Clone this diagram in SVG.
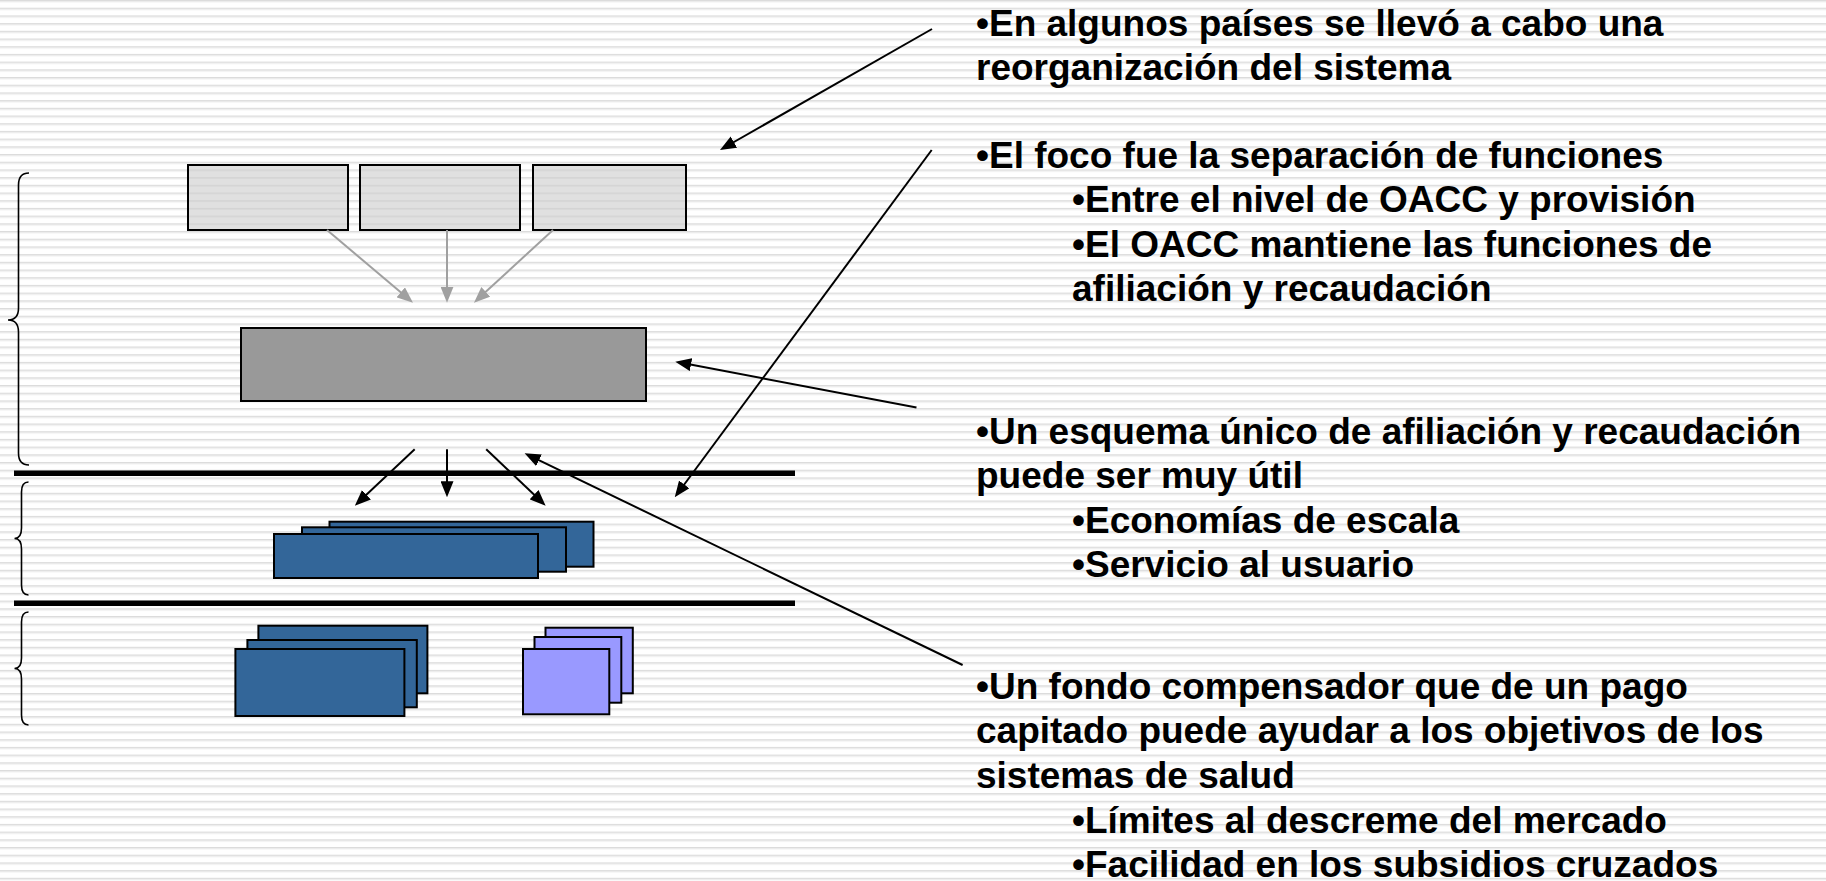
<svg xmlns="http://www.w3.org/2000/svg" width="1826" height="881" viewBox="0 0 1826 881">
<style>
.t{font-family:"Liberation Sans",Arial,sans-serif;font-weight:bold;font-size:37px;fill:#000}
.lt{fill:url(#boxpat);stroke:#000;stroke-width:2}
.dk{fill:#999999;stroke:#000;stroke-width:2}
.bl{fill:#336699;stroke:#000;stroke-width:2}
.pu{fill:#9999FF;stroke:#000;stroke-width:2}
.brace{fill:none;stroke:#000;stroke-width:1.6}
.rule{stroke:#000;stroke-width:5.5}
.ca{fill:none;stroke:#000;stroke-width:2;marker-end:url(#ah)}
.cg{fill:none;stroke:#a0a0a0;stroke-width:2;marker-end:url(#ahg)}
</style>
<defs>
<pattern id="bg" width="20" height="7.7" patternUnits="userSpaceOnUse">
<rect width="20" height="7.7" fill="#fff"/>
<rect y="0" width="20" height="1" fill="#dcdcdc"/>
<rect y="1" width="20" height="1.3" fill="#ebebeb"/>
</pattern>
<pattern id="boxpat" width="20" height="7.7" patternUnits="userSpaceOnUse">
<rect width="20" height="7.7" fill="#e0e0e0"/>
<rect y="0" width="20" height="1.6" fill="#d4d4d4"/>
</pattern>
<marker id="ah" markerUnits="userSpaceOnUse" markerWidth="16" markerHeight="13" refX="10" refY="6.5" orient="auto" viewBox="0 0 16 13">
<path d="M0,0 L16,6.5 L0,13 z" fill="#000"/>
</marker>
<marker id="ahg" markerUnits="userSpaceOnUse" markerWidth="16" markerHeight="13" refX="10" refY="6.5" orient="auto" viewBox="0 0 16 13">
<path d="M0,0 L16,6.5 L0,13 z" fill="#a0a0a0"/>
</marker>
</defs>
<rect width="1826" height="881" fill="url(#bg)"/>

<g id="braces">
<path class="brace" d="M29,173 Q18.5,173 18.5,185 L18.5,308 Q18.5,320 8,320 Q18.5,320 18.5,332 L18.5,453 Q18.5,465 29,465"/>
<path class="brace" d="M28.5,482 Q21.5,482 21.5,492 L21.5,528 Q21.5,538.5 14.5,538.5 Q21.5,538.5 21.5,549 L21.5,585 Q21.5,595 28.5,595"/>
<path class="brace" d="M28.5,612 Q21.5,612 21.5,622 L21.5,658 Q21.5,668.5 14.5,668.5 Q21.5,668.5 21.5,679 L21.5,715 Q21.5,725 28.5,725"/>
</g>
<g id="rules">
<line class="rule" x1="14" y1="473.3" x2="795" y2="473.3"/>
<line class="rule" x1="14" y1="603.3" x2="795" y2="603.3"/>
</g>

<g id="top-boxes">
<rect id="n-top1" class="lt" x="188" y="165" width="160" height="65"/>
<rect id="n-top2" class="lt" x="360" y="165" width="160" height="65"/>
<rect id="n-top3" class="lt" x="533" y="165" width="153" height="65"/>
</g>
<g id="n-mid">
<rect class="dk" x="241" y="328" width="405" height="73"/>
</g>
<g id="n-stack1">
<rect class="bl" x="329.5" y="521.7" width="264" height="45"/>
<rect class="bl" x="302" y="527.3" width="264" height="44.4"/>
<rect class="bl" x="274" y="534" width="264" height="44"/>
</g>
<g id="n-stack2">
<rect class="bl" x="258.4" y="625.7" width="169" height="67.6"/>
<rect class="bl" x="247.4" y="640" width="169.4" height="67.3"/>
<rect class="bl" x="235.4" y="649" width="169" height="67"/>
</g>
<g id="n-stack3">
<rect class="pu" x="545.5" y="627.7" width="87.3" height="65.6"/>
<rect class="pu" x="534.5" y="637" width="86.8" height="65.7"/>
<rect class="pu" x="523" y="649" width="86.3" height="65.3"/>
</g>

<g id="connectors">
<line class="cg" x1="327" y1="230" x2="408.4" y2="298.8"/>
<line class="cg" x1="447" y1="230" x2="447" y2="296.7"/>
<line class="cg" x1="553" y1="230" x2="478.4" y2="298.6"/>
<line class="ca" x1="414.7" y1="449.3" x2="359.2" y2="501.6"/>
<line class="ca" x1="447" y1="449.3" x2="447" y2="491.3"/>
<line class="ca" x1="486.2" y1="449.3" x2="541.3" y2="501.6"/>
<line class="ca" x1="932" y1="29" x2="725.2" y2="147"/>
<line class="ca" x1="931.7" y1="150" x2="678.3" y2="492.5"/>
<line class="ca" x1="916.5" y1="407.6" x2="681.2" y2="362.8"/>
<line class="ca" x1="962.6" y1="665" x2="530" y2="455.9"/>
</g>

<g id="text1">
<text class="t" x="976" y="36">•En algunos países se llevó a cabo una</text>
<text class="t" x="976" y="80">reorganización del sistema</text>
</g>
<g id="text2">
<text class="t" x="976" y="168">•El foco fue la separación de funciones</text>
<text class="t" x="1072" y="212">•Entre el nivel de OACC y provisión</text>
<text class="t" x="1072" y="257">•El OACC mantiene las funciones de</text>
<text class="t" x="1072" y="301">afiliación y recaudación</text>
</g>
<g id="text3">
<text class="t" x="976" y="444">•Un esquema único de afiliación y recaudación</text>
<text class="t" x="976" y="488">puede ser muy útil</text>
<text class="t" x="1072" y="533">•Economías de escala</text>
<text class="t" x="1072" y="577">•Servicio al usuario</text>
</g>
<g id="text4">
<text class="t" x="976" y="699">•Un fondo compensador que de un pago</text>
<text class="t" x="976" y="743">capitado puede ayudar a los objetivos de los</text>
<text class="t" x="976" y="788">sistemas de salud</text>
<text class="t" x="1072" y="833">•Límites al descreme del mercado</text>
<text class="t" x="1072" y="877">•Facilidad en los subsidios cruzados</text>
</g>
</svg>
